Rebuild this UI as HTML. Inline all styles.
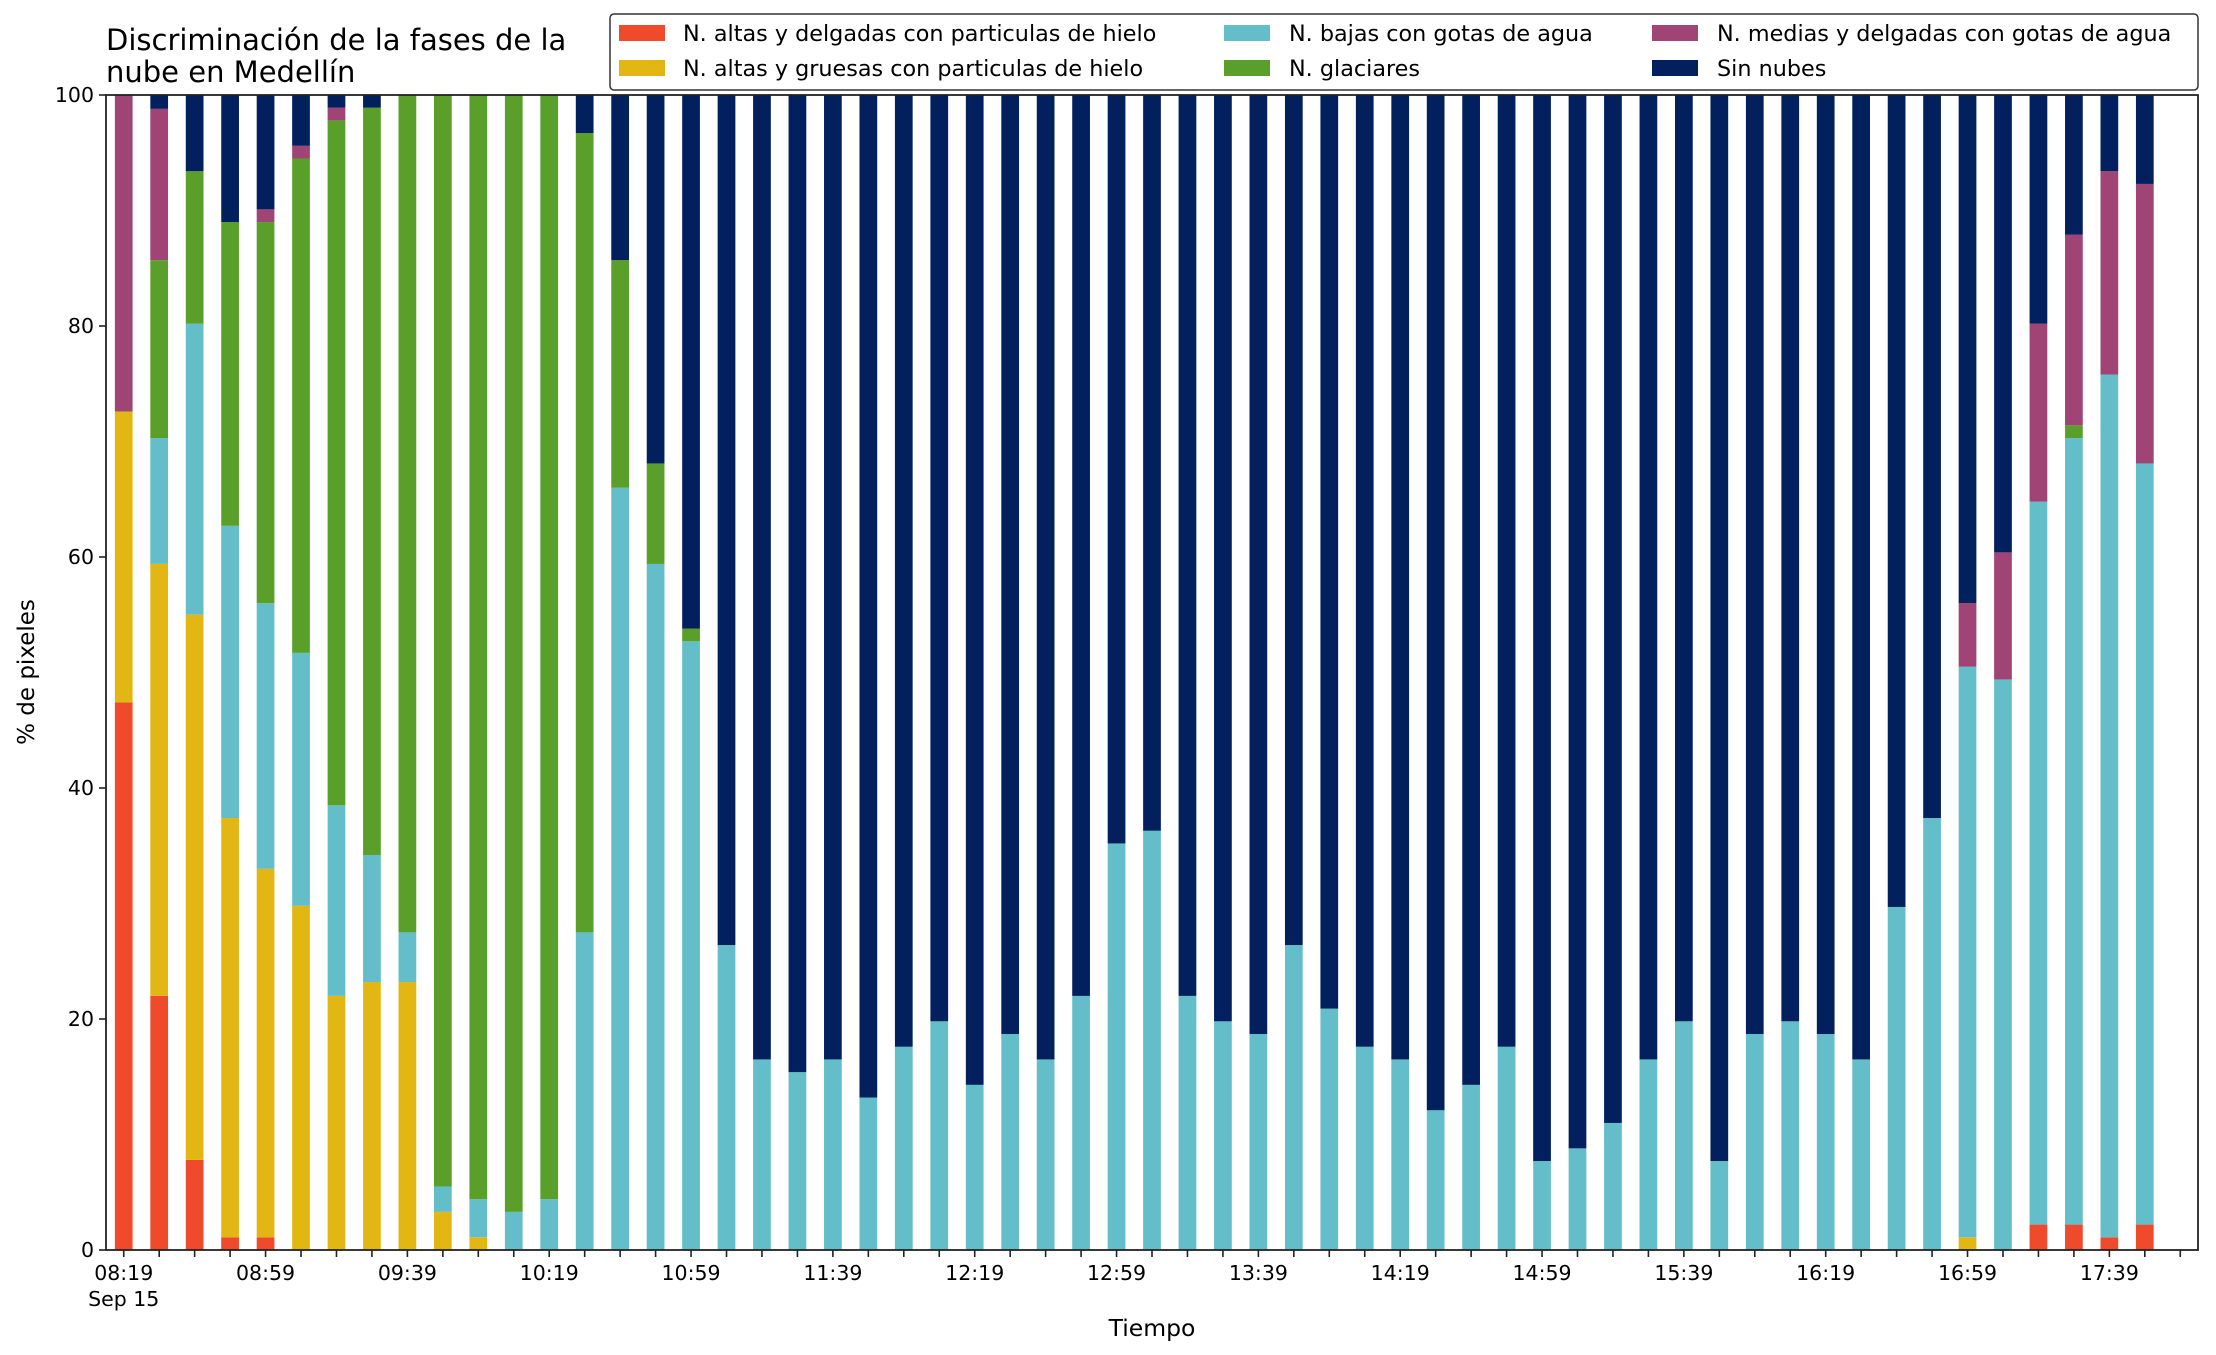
<!DOCTYPE html>
<html><head><meta charset="utf-8"><style>
body{margin:0;background:#fff;}
svg{display:block;font-family:"DejaVu Sans","Liberation Sans",sans-serif;}
</style></head><body>
<svg id="chart" width="2216" height="1355" viewBox="0 0 2216 1355" xmlns="http://www.w3.org/2000/svg">
<rect width="2216" height="1355" fill="#fff"/>
<text x="106" y="50" font-size="29">Discriminación de la fases de la</text>
<text x="106" y="82" font-size="29">nube en Medellín</text>
<g id="bars"></g>
<g id="axes"></g>
<text x="1152" y="1336" font-size="23.5" text-anchor="middle">Tiempo</text>
<text x="34" y="672" font-size="23" text-anchor="middle" transform="rotate(-90 34 672)">% de pixeles</text>
<g>
<rect x="610" y="14" width="1588" height="76" rx="4" fill="#fff" stroke="#333" stroke-width="1.5"/>
<g><rect x="619" y="25" width="46" height="16" fill="#ef4a2b"/><text x="683" y="41" font-size="22.3">N. altas y delgadas con particulas de hielo</text></g>
<g><rect x="619" y="60" width="46" height="16" fill="#e2b714"/><text x="683" y="76" font-size="22.3">N. altas y gruesas con particulas de hielo</text></g>
<g><rect x="1224" y="25" width="46" height="16" fill="#64bec9"/><text x="1289" y="41" font-size="22.3">N. bajas con gotas de agua</text></g>
<g><rect x="1224" y="60" width="46" height="16" fill="#5a9f29"/><text x="1289" y="76" font-size="22.3">N. glaciares</text></g>
<g><rect x="1652" y="25" width="46" height="16" fill="#a04476"/><text x="1717" y="41" font-size="22.3">N. medias y delgadas con gotas de agua</text></g>
<g><rect x="1652" y="60" width="46" height="16" fill="#02205e"/><text x="1717" y="76" font-size="22.3">Sin nubes</text></g>
</g>
</svg>
<script>
const categories = ["08:19","08:29","08:39","08:49","08:59","09:09","09:19","09:29","09:39","09:49","09:59","10:09","10:19","10:29","10:39","10:49","10:59","11:09","11:19","11:29","11:39","11:49","11:59","12:09","12:19","12:29","12:39","12:49","12:59","13:09","13:19","13:29","13:39","13:49","13:59","14:09","14:19","14:29","14:39","14:49","14:59","15:09","15:19","15:29","15:39","15:49","15:59","16:09","16:19","16:29","16:39","16:49","16:59","17:09","17:19","17:29","17:39","17:49","17:59"];
const redVals = [47.4,22,7.8,1.1,1.1,0,0,0,0,0,0,0,0,0,0,0,0,0,0,0,0,0,0,0,0,0,0,0,0,0,0,0,0,0,0,0,0,0,0,0,0,0,0,0,0,0,0,0,0,0,0,0,0,0,2.2,2.2,1.1,2.2,0];
const yellowVals = [25.2,37.4,47.2,36.3,31.9,29.8,22,23.2,23.2,3.3,1.1,0,0,0,0,0,0,0,0,0,0,0,0,0,0,0,0,0,0,0,0,0,0,0,0,0,0,0,0,0,0,0,0,0,0,0,0,0,0,0,0,0,1.1,0,0,0,0,0,0];
const cyanVals = [0,10.9,25.2,25.3,23,21.9,16.5,11,4.3,2.2,3.3,3.3,4.4,27.5,66,59.4,52.7,26.4,16.5,15.4,16.5,13.2,17.6,19.8,14.3,18.7,16.5,22,35.2,36.3,22,19.8,18.7,26.4,20.9,17.6,16.5,12.1,14.3,17.6,7.7,8.8,11,16.5,19.8,7.7,18.7,19.8,18.7,16.5,29.7,37.4,49.4,49.4,62.6,68.1,74.7,65.9,0];
const greenVals = [0,15.4,13.2,26.3,33,42.8,59.3,64.7,72.5,94.5,95.6,96.7,95.6,69.2,19.7,8.7,1.1,0,0,0,0,0,0,0,0,0,0,0,0,0,0,0,0,0,0,0,0,0,0,0,0,0,0,0,0,0,0,0,0,0,0,0,0,0,0,1.1,0,0,0];
const purpleVals = [27.4,13.1,0,0,1.1,1.1,1.1,0,0,0,0,0,0,0,0,0,0,0,0,0,0,0,0,0,0,0,0,0,0,0,0,0,0,0,0,0,0,0,0,0,0,0,0,0,0,0,0,0,0,0,0,0,5.5,11,15.4,16.5,17.6,24.2,0];
const darkVals = [0,1.2,6.6,11,9.9,4.4,1.1,1.1,0,0,0,0,0,3.3,14.3,31.9,46.2,73.6,83.5,84.6,83.5,86.8,82.4,80.2,85.7,81.3,83.5,78,64.8,63.7,78,80.2,81.3,73.6,79.1,82.4,83.5,87.9,85.7,82.4,92.3,91.2,89,83.5,80.2,92.3,81.3,80.2,81.3,83.5,70.3,62.6,44,39.6,19.8,12.1,6.6,7.7,0];
const yTicks = [0,20,40,60,80,100];

const NS="http://www.w3.org/2000/svg";
const L=106,R=2198,T=95,B=1250;
const n=categories.length;
const step=(R-L)/n;
function xPos(i){return L+(i+0.5)*step;}
function yPos(v){return B-(v/100)*(B-T);}
const series=[["altas-delgadas",redVals,"#ef4a2b"],["altas-gruesas",yellowVals,"#e2b714"],["bajas",cyanVals,"#64bec9"],["glaciares",greenVals,"#5a9f29"],["medias",purpleVals,"#a04476"],["sin-nubes",darkVals,"#02205e"]];
const bars=document.getElementById('bars');
for(let i=0;i<n;i++){
  let base=0;
  for(const [nm,vals,col] of series){
    const v=vals[i];
    if(v>0){
      const r=document.createElementNS(NS,'rect');
      
      
      r.setAttribute('x',xPos(i)-step*0.25);
      r.setAttribute('width',step*0.5);
      r.setAttribute('y',yPos(base+v));
      r.setAttribute('height',yPos(base)-yPos(base+v));
      r.setAttribute('fill',col);
      bars.appendChild(r);
    }
    base+=v;
  }
}
const ax=document.getElementById('axes');
function add(tag,attrs,txt){const e=document.createElementNS(NS,tag);for(const k in attrs)e.setAttribute(k,attrs[k]);if(txt!==undefined)e.textContent=txt;ax.appendChild(e);return e;}
for(const t of yTicks){
  const y=yPos(t);
  const l=add('line',{x1:L-7,x2:L,y1:y,y2:y,stroke:'#222','stroke-width':1.6});
  
  
  const tx=add('text',{x:L-12,y:y+7,'font-size':20.5,'text-anchor':'end'},String(t));
  
  
}
for(let i=0;i<n;i++){
  const x=xPos(i);
  const l=add('line',{x1:x,x2:x,y1:B,y2:B+7,stroke:'#222','stroke-width':1.6});
  
  
  if(i%4===0){
    const tx=add('text',{x:x,y:1280,'font-size':20.5,'text-anchor':'middle'},categories[i]);
    
    
  }
}
const d=add('text',{x:xPos(0),y:1306,'font-size':20.5,'text-anchor':'middle'},'Sep 15');


const fr=add('rect',{x:L,y:T,width:R-L,height:B-T,fill:'none',stroke:'#222','stroke-width':1.8});


</script>
</body></html>
